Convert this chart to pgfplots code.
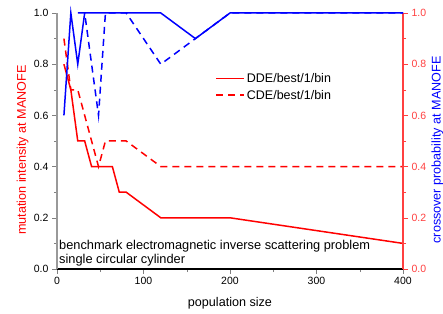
\documentclass[border=0pt]{standalone}
\usepackage{pgfplots}
\pgfplotsset{compat=1.18}
\usepackage{fontspec}
\setmainfont{Liberation Sans}
\begin{document}
\begin{tikzpicture}
\pgfplotsset{
  every axis/.append style={
    scale only axis, width=346pt, height=256pt,
    at={(0pt,0pt)}, anchor=south west,
    xmin=0, xmax=400, ymin=0, ymax=1, clip=false,
    /pgf/number format/assume math mode=true,
    tick label style={font=\fontsize{10.5}{12}\selectfont},
    label style={font=\fontsize{12.6}{14}\selectfont},
    major tick length=5pt, minor tick length=3pt, tick align=outside,
    xtick={0,100,200,300,400}, minor x tick num=1,
    ytick={0,0.2,0.4,0.6,0.8,1.0}, minor y tick num=1,
    yticklabel style={/pgf/number format/fixed, /pgf/number format/fixed zerofill, /pgf/number format/precision=1},
    axis line style={-, line width=1.2pt},
  },
}
\begin{axis}[
  axis x line*=bottom, axis y line*=left,
  x axis line style={black}, y axis line style={gray!80},
  xlabel={population size}, ylabel={mutation intensity at MANOFE},
  xlabel style={yshift=-6pt},
  ylabel style={red, at={([xshift=-31pt,yshift=-9pt]axis description cs:0,0.5)}, anchor=base},
  legend style={draw=none, fill=none, at={(axis description cs:0.448,0.780)}, anchor=north west,
    font=\fontsize{12.5}{15}\selectfont, row sep=2pt},
  legend cell align=left,
]
\addlegendimage{red, line width=1.7pt, legend image code/.code={\draw[red, line width=1.7pt] (0pt,0.3pt) -- (28pt,0.3pt);}}
\addlegendentry{DDE/best/1/bin}
\addlegendimage{red, line width=1.7pt, legend image code/.code={\draw[red, line width=1.7pt, dash pattern=on 7pt off 5pt] (0pt,0.3pt) -- (28pt,0.3pt);}}
\addlegendentry{CDE/best/1/bin}
\addplot[red, line width=1.5pt, forget plot] coordinates {(8,0.8)(16,0.7)(24,0.5)(32,0.5)(40,0.4)(64,0.4)(72,0.3)(80,0.3)(120,0.2)(200,0.2)(400,0.1)};
\addplot[red, line width=1.5pt, dash pattern=on 7pt off 5pt, forget plot] coordinates {(8,0.9)(16,0.7)(24,0.7)(32,0.6)(40,0.5)(48,0.4)(56,0.5)(80,0.5)(120,0.4)(400,0.4)};
\node[anchor=base west, inner sep=0pt, font=\fontsize{12.8}{15}\selectfont] at (axis cs:2.3,0.078) {benchmark electromagnetic inverse scattering problem};
\node[anchor=base west, inner sep=0pt, font=\fontsize{12.8}{15}\selectfont] at (axis cs:2.3,0.023) {single circular cylinder};
\end{axis}
\begin{axis}[
  axis x line=none, axis y line*=right,
  y axis line style={red!75},
  y tick style={red!75},
  y tick label style={text=red!75},
  ylabel={crossover probability at MANOFE},
  ylabel style={blue, at={([xshift=37.5pt,yshift=-9pt]axis description cs:1,0.5)}, anchor=base},
]
\addplot[blue, line width=1.5pt] coordinates {(8,0.6)(16,1.0)(24,0.8)(32,1.0)(120,1.0)(160,0.9)(200,1.0)(400,1.0)};
\addplot[blue, line width=1.5pt, dash pattern=on 7pt off 5pt] coordinates {(24,1.0)(32,1.0)(48,0.6)(56,1.0)(80,1.0)(120,0.8)(160,0.9)(200,1.0)(400,1.0)};
\end{axis}
\pgfresetboundingbox
\path (-57pt,-44pt) rectangle (386pt,269pt);
\end{tikzpicture}
\end{document}
